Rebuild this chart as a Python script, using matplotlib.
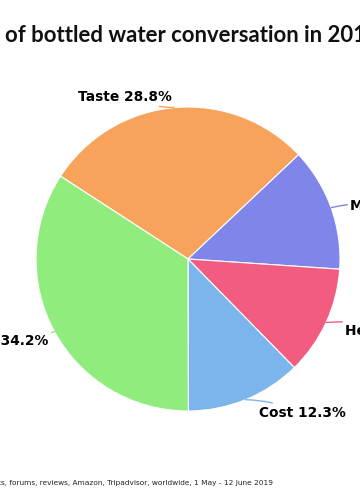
import numpy as np
import matplotlib.pyplot as plt

# Dane wykresu
tematy = ["Taste", "Marketing", "Health", "Cost", "Environment"]
udzialy = [28.8, 13.1, 11.6, 12.3, 34.2]
kolory = ["#f7a35c", "#8085e9", "#f15c80", "#7cb5ec", "#90ed7d"]

tytul = "Topics of bottled water conversation in 2019"
zrodlo = ("Source: news, blogs, social posts, forums, reviews, Amazon, "
          "Tripadvisor, worldwide, 1 May - 12 June 2019")

# przesuniecia etykiet (px) wzgledem krawedzi wycinka: dx, dy, wyrownanie
przesuniecia = [(-2, 11, "right"), (19, 2, "left"), (19, -8, "left"),
                (13, -13, "left"), (-6, -9, "right")]

W, H = 360, 500
fig = plt.figure(figsize=(W / 100, H / 100), dpi=100)

cx, cy, r = 188, 500 - 259, 152
ax = fig.add_axes([(cx - r) / W, (cy - r) / H, 2 * r / W, 2 * r / H])
kat_start = 147
wedges, _ = ax.pie(udzialy, colors=kolory, startangle=kat_start, counterclock=False,
                   radius=1, wedgeprops=dict(edgecolor="white", linewidth=0.8))
ax.set_xlim(-1, 1)
ax.set_ylim(-1, 1)
ax.set_aspect("equal")
ax.axis("off")

for w, nazwa, val, kol, (dx, dy, ha) in zip(wedges, tematy, udzialy, kolory, przesuniecia):
    srodek = np.deg2rad((w.theta1 + w.theta2) / 2)
    x, y = np.cos(srodek), np.sin(srodek)
    ax.annotate(f"{nazwa} {val:.1f}%", xy=(x, y), xytext=(dx * 0.72, dy * 0.72),
                textcoords="offset points", ha=ha, va="center",
                fontsize=9.9, fontweight="bold", family="DejaVu Sans", color="#000000",
                annotation_clip=False,
                arrowprops=dict(arrowstyle="-", color=kol, lw=1,
                                shrinkA=0, shrinkB=0,
                                connectionstyle="arc3,rad=0.1"))

# tytul: dopasowanie tak, zeby widoczny fragment "of ... 201" zajmowal x 5..355
renderer = fig.canvas.get_renderer()
styl = dict(fontweight="bold", family="Lato")

def szerokosc(tekst, rozmiar):
    t = fig.text(0, 0, tekst, fontsize=rozmiar, **styl)
    s = t.get_window_extent(renderer).width
    t.remove()
    return s

rozmiar = 16 * 362 / szerokosc("of bottled water conversation in 201", 16)
prefiks = szerokosc("Topics of", rozmiar) - szerokosc("of", rozmiar)
fig.text((5 - prefiks) / W, 1 - 35 / H, tytul, ha="left", va="center",
         fontsize=rozmiar, color="#111111", **styl)

fig.text(273 / W, 1 - 483 / H, zrodlo, ha="right", va="center",
         fontsize=5.3, family="DejaVu Sans", color="#222222")

fig.savefig("out.png", dpi=100)
